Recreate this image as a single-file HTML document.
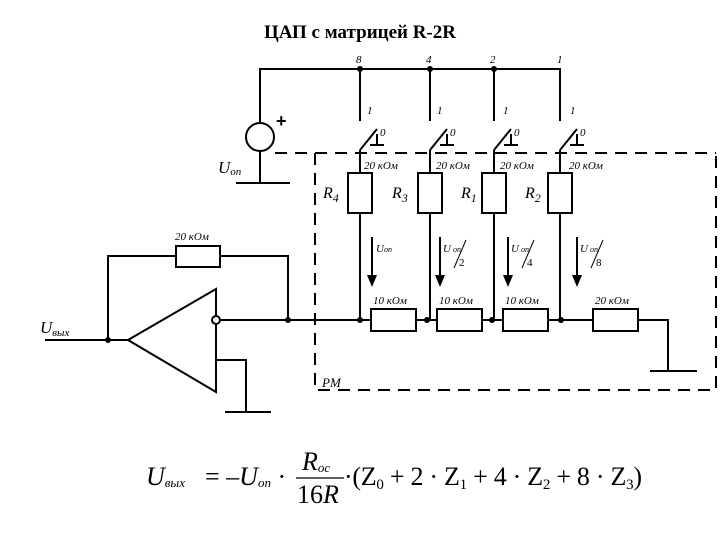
<!DOCTYPE html>
<html><head><meta charset="utf-8"><style>body{margin:0;background:#fff}svg{display:block}</style></head><body>
<svg width="720" height="540" xmlns="http://www.w3.org/2000/svg" font-family="Liberation Serif, serif">
<rect width="720" height="540" fill="#fff"/>
<text x="360" y="38" text-anchor="middle" font-weight="bold" font-size="19">ЦАП с матрицей R-2R</text>
<g stroke="#000" stroke-width="2" fill="none">
<polyline points="260,183 260,69 560,69 560,121"/>
<line x1="360" y1="69" x2="360" y2="121"/>
<line x1="430" y1="69" x2="430" y2="121"/>
<line x1="494" y1="69" x2="494" y2="121"/>
<circle cx="260" cy="137" r="14" fill="#fff"/>
<line x1="236" y1="183" x2="290" y2="183"/>
<g id="sw">
<line x1="360" y1="150" x2="360" y2="173"/>
<line x1="360" y1="150" x2="377" y2="129"/>
<line x1="377" y1="134" x2="377" y2="145"/>
<line x1="370" y1="145" x2="384" y2="145"/>
<rect x="348" y="173" width="24" height="40" fill="#fff"/>
<line x1="360" y1="213" x2="360" y2="320"/>
</g>
<use href="#sw" x="70"/>
<use href="#sw" x="134"/>
<use href="#sw" x="200"/>
<g stroke-dasharray="12,8">
<line x1="275" y1="153" x2="716" y2="153"/>
<polyline points="315,153 315,390 716,390 716,153"/>
</g>
<line x1="216" y1="320" x2="640" y2="320"/>
<polyline points="640,320 668,320 668,371"/>
<line x1="650" y1="371" x2="697" y2="371"/>
<rect x="371" y="309" width="45" height="22" fill="#fff"/>
<rect x="437" y="309" width="45" height="22" fill="#fff"/>
<rect x="503" y="309" width="45" height="22" fill="#fff"/>
<rect x="593" y="309" width="45" height="22" fill="#fff"/>
<line x1="372" y1="237" x2="372" y2="278"/>
<line x1="440" y1="237" x2="440" y2="278"/>
<line x1="508" y1="237" x2="508" y2="278"/>
<line x1="577" y1="237" x2="577" y2="278"/>
<polygon points="128,340 216,289 216,392" fill="#fff"/>
<circle cx="216" cy="320" r="4" fill="#fff"/>
<line x1="45" y1="340" x2="128" y2="340"/>
<polyline points="108,340 108,256 288,256 288,320"/>
<rect x="176" y="246" width="44" height="21" fill="#fff"/>
<polyline points="216,360 246,360 246,412"/>
<line x1="225" y1="412" x2="271" y2="412"/>
<line x1="296" y1="478" x2="344" y2="478" stroke-width="1.2"/>
</g>
<g fill="#000">
<circle cx="360" cy="69" r="3"/><circle cx="430" cy="69" r="3"/><circle cx="494" cy="69" r="3"/>
<circle cx="108" cy="340" r="3"/><circle cx="288" cy="320" r="3"/>
<circle cx="360" cy="320" r="3"/><circle cx="427" cy="320" r="3"/><circle cx="492" cy="320" r="3"/><circle cx="561" cy="320" r="3"/>
<polygon points="367,275 377,275 372,287"/>
<polygon points="435,275 445,275 440,287"/>
<polygon points="503,275 513,275 508,287"/>
<polygon points="572,275 582,275 577,287"/>
</g>
<g font-style="italic" font-size="11">
<text x="356" y="63">8</text><text x="426" y="63">4</text><text x="490" y="63">2</text><text x="557" y="63">1</text>
<text x="367" y="114">1</text><text x="437" y="114">1</text><text x="503" y="114">1</text><text x="570" y="114">1</text>
<text x="380" y="136">0</text><text x="450" y="136">0</text><text x="514" y="136">0</text><text x="580" y="136">0</text>
<text x="364" y="169">20 кОм</text><text x="436" y="169">20 кОм</text><text x="500" y="169">20 кОм</text><text x="569" y="169">20 кОм</text>
<text x="175" y="240">20 кОм</text>
<text x="373" y="304">10 кОм</text><text x="439" y="304">10 кОм</text><text x="505" y="304">10 кОм</text><text x="595" y="304">20 кОм</text>
<text x="322" y="387" font-size="13">PM</text>
</g>
<g font-style="italic" font-size="16">
<text x="323" y="198">R<tspan font-size="12" dy="4">4</tspan></text>
<text x="392" y="198">R<tspan font-size="12" dy="4">3</tspan></text>
<text x="461" y="198">R<tspan font-size="12" dy="4">1</tspan></text>
<text x="525" y="198">R<tspan font-size="12" dy="4">2</tspan></text>
<text x="218" y="173" font-size="17">U<tspan font-size="11" dy="2">оп</tspan></text>
<text x="40" y="333" font-size="17">U<tspan font-size="11" dy="3">вых</tspan></text>
</g>
<text x="276" y="127" font-size="18" font-weight="bold" font-family="Liberation Sans, sans-serif">+</text>
<g font-style="italic" font-size="11">
<text x="376" y="252">U<tspan font-size="8">оп</tspan></text>
<text x="443" y="252">U<tspan font-size="8"> оп</tspan></text><text x="459" y="266" font-style="normal">2</text>
<text x="511" y="252">U<tspan font-size="8"> оп</tspan></text><text x="527" y="266" font-style="normal">4</text>
<text x="580" y="252">U<tspan font-size="8"> оп</tspan></text><text x="596" y="266" font-style="normal">8</text>
</g>
<g stroke="#000" stroke-width="1"><line x1="454" y1="268" x2="466" y2="240"/><line x1="522" y1="268" x2="534" y2="240"/><line x1="591" y1="268" x2="603" y2="240"/></g>
<g font-size="26">
<text x="146" y="485" font-style="italic">U<tspan font-size="13" dy="2">вых</tspan></text>
<text x="205" y="485">= –<tspan font-style="italic">U</tspan><tspan font-size="13" dy="2" font-style="italic">оп</tspan><tspan dy="-2"> ·</tspan></text>
<text x="302" y="470" font-style="italic">R<tspan font-size="13" dy="2">ос</tspan></text>
<text x="297" y="503">16<tspan font-style="italic">R</tspan></text>
<text x="344" y="485" textLength="298" lengthAdjust="spacing">·(Z<tspan font-size="15" dy="4">0</tspan><tspan dy="-4"> + 2 · Z</tspan><tspan font-size="15" dy="4">1</tspan><tspan dy="-4"> + 4 · Z</tspan><tspan font-size="15" dy="4">2</tspan><tspan dy="-4"> + 8 · Z</tspan><tspan font-size="15" dy="4">3</tspan><tspan dy="-4">)</tspan></text>
</g>
</svg>
</body></html>
